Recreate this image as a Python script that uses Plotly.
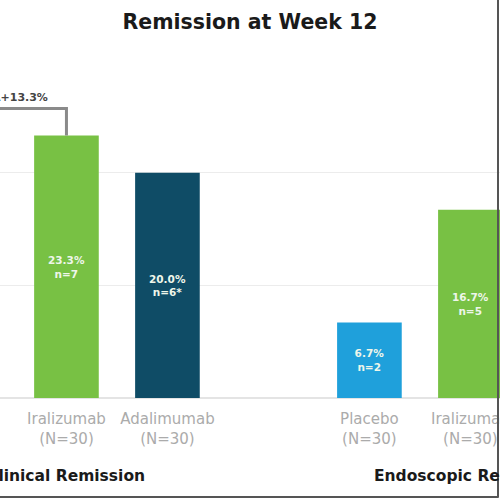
import plotly.graph_objects as go

# categories (a blank slot separates the two endpoint groups)
cat_ids = ["cr_pbo", "cr_ira", "cr_ada", "gap", "er_pbo", "er_ira"]
cat_labels = ["Placebo<br>(N=30)", "Iralizumab<br>(N=30)", "Adalimumab<br>(N=30)", "",
              "Placebo<br>(N=30)", "Iralizumab<br>(N=30)"]

# series values (% of patients) and bar labels
placebo_x = ["cr_pbo", "er_pbo"]
placebo_pct = [10.0, 6.7]
placebo_n = ["n=3", "n=2"]

iral_x = ["cr_ira", "er_ira"]
iral_pct = [23.3, 16.7]
iral_n = ["n=7", "n=5"]

adal_x = ["cr_ada"]
adal_pct = [20.0]
adal_n = ["n=6*"]

group_names = ["Clinical Remission", "Endoscopic Remission"]
group_centres = ["cr_ira", "er_ira"]

delta_text = "Δ+13.3%"
bracket_level = 25.7

BLUE = "#1fa0db"
GREEN = "#78c144"
NAVY = "#0f4c66"
FONT = "DejaVu Sans"


def bar_text(pcts, ns):
    return ["<b>%.1f%%<br>%s</b>" % (p, n) for p, n in zip(pcts, ns)]


fig = go.Figure()
for xs, ys, ns, col, name in [(placebo_x, placebo_pct, placebo_n, BLUE, "Placebo"),
                              (iral_x, iral_pct, iral_n, GREEN, "Iralizumab"),
                              (adal_x, adal_pct, adal_n, NAVY, "Adalimumab")]:
    fig.add_trace(go.Bar(x=xs, y=ys, name=name, marker=dict(color=col, line=dict(width=0)),
                         text=bar_text(ys, ns), textposition="inside", insidetextanchor="middle",
                         textangle=0, textfont=dict(family=FONT, size=10.5, color="#eef6ea"),
                         hoverinfo="skip"))

# comparison bracket placebo -> iralizumab (clinical remission)
fig.add_trace(go.Scatter(x=[cat_ids[0], cat_ids[0], cat_ids[1], cat_ids[1]],
                         y=[placebo_pct[0] + 0.5, bracket_level, bracket_level, iral_pct[0]],
                         mode="lines", line=dict(color="#8a8a8a", width=3),
                         hoverinfo="skip", showlegend=False))
fig.add_annotation(x=0.5, y=bracket_level, text="<b>%s</b>" % delta_text, showarrow=False,
                   yanchor="bottom", yshift=2, xshift=4,
                   font=dict(family=FONT, size=11, color="#444444"))

for g, c in zip(group_names, group_centres):
    fig.add_annotation(x=c, y=-0.263, yref="paper", text="<b>%s</b>" % g, showarrow=False,
                       font=dict(family=FONT, size=15.5, color="#1a1a1a"))

# slide frame edges (right and bottom)
fig.add_shape(type="line", xref="paper", yref="paper", x0=0.996, x1=0.996, y0=1.2, y1=-0.295,
              line=dict(color="#555555", width=2), layer="above")
fig.add_shape(type="line", xref="paper", yref="paper", x0=0, x1=0.996, y0=-0.293, y1=-0.293,
              line=dict(color="#555555", width=2), layer="above")

fig.update_layout(
    width=500, height=500,
    margin=dict(l=0, r=0, t=60, b=102, autoexpand=False),
    paper_bgcolor="white", plot_bgcolor="white",
    showlegend=False,
    bargap=0.36,
    title=dict(text="<b>Remission at Week 12</b>", x=0.5, xanchor="center", y=0.956,
               yanchor="middle", font=dict(family=FONT, size=20.5, color="#1a1a1a")),
    font=dict(family=FONT),
)
fig.update_xaxes(type="category", categoryorder="array", categoryarray=cat_ids,
                 tickvals=cat_ids, ticktext=cat_labels, range=[0.342, 5.293],
                 automargin=False, ticklabelstandoff=10,
                 showgrid=False, showline=False, ticks="",
                 tickfont=dict(family=FONT, size=15, color="#ababab"))
fig.update_yaxes(range=[0, 30], dtick=10, showgrid=True, gridcolor="#ececec", gridwidth=1,
                 automargin=False,
                 zeroline=True, zerolinecolor="#e4e4e4", showticklabels=False, showline=False)

# page has no body margin so the 500x500 figure fills the window exactly
fig.write_html("out.html", config={"displayModeBar": False},
               post_script="document.body.style.margin='0';")
